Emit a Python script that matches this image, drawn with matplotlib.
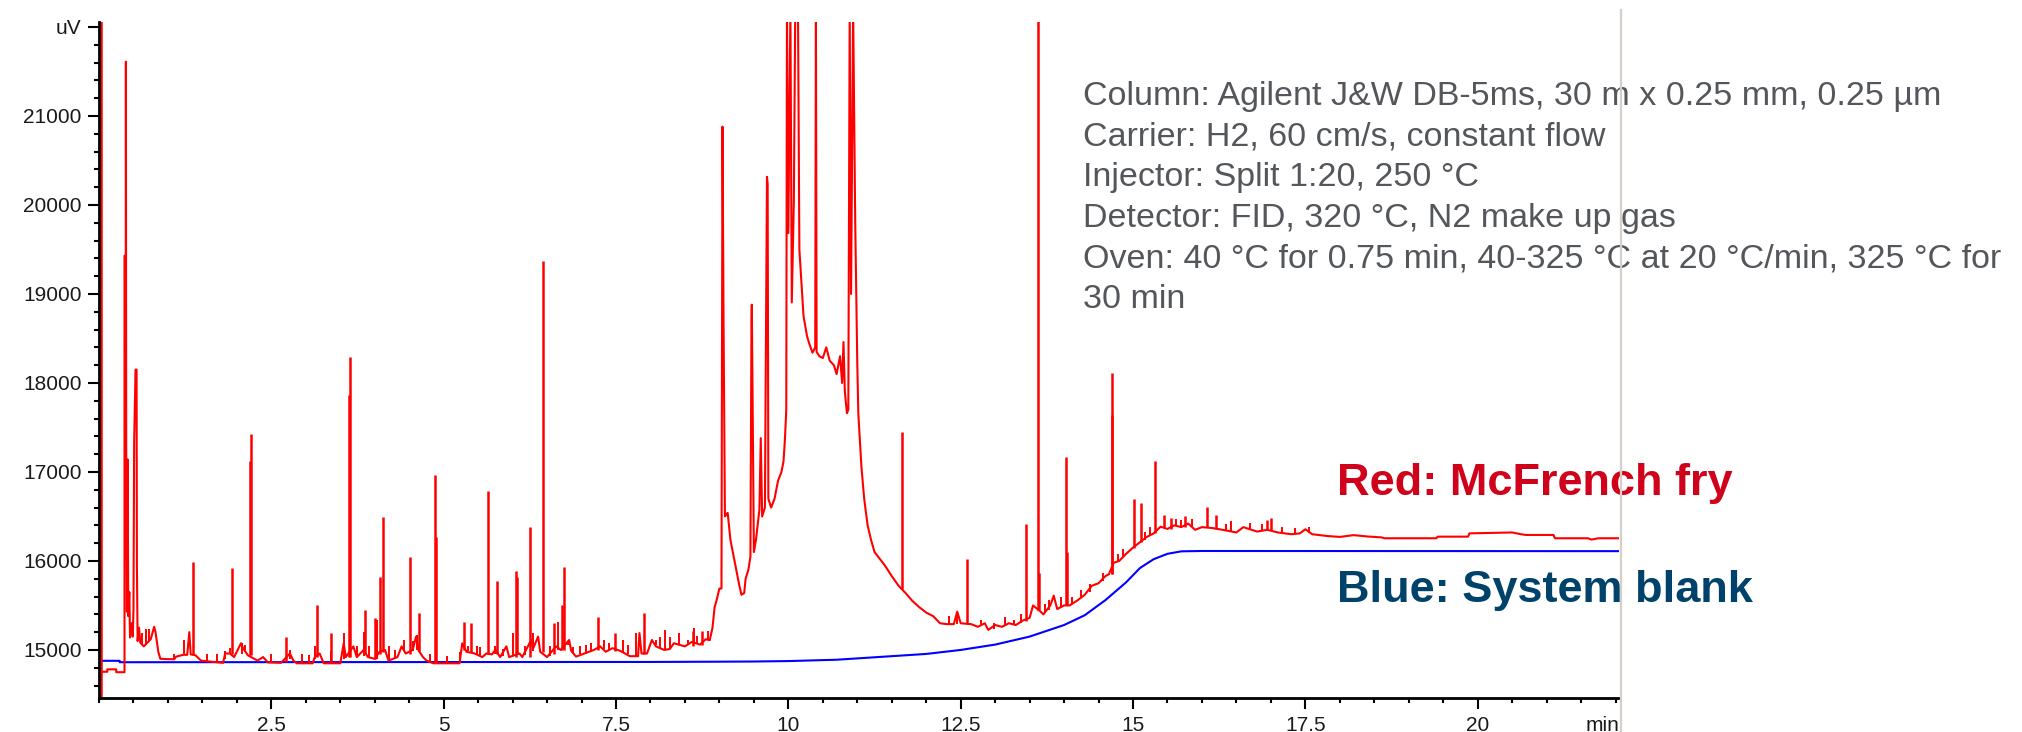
import matplotlib
matplotlib.use("Agg")
import matplotlib.pyplot as plt
from matplotlib.ticker import MultipleLocator
from matplotlib.lines import Line2D

plt.rcParams["font.family"] = ["Liberation Sans", "DejaVu Sans"]

# red trace (McFrench fry): retention time [min], signal [uV]
red_t = [0.00, 0.12, 0.12, 0.25, 0.25, 0.37, 0.37, 0.38, 0.385, 0.39, 0.395, 0.40, 0.405, 0.415,
         0.425, 0.44, 0.45, 0.47, 0.49, 0.50, 0.51, 0.53, 0.545, 0.55, 0.56, 0.58,
         0.60, 0.65, 0.70, 0.75, 0.80, 0.82, 0.86, 0.89, 1.09, 1.12, 1.22, 1.28,
         1.31, 1.33, 1.40, 1.48, 1.80, 1.83, 1.90, 1.96, 2.06, 2.09, 2.16, 2.30,
         2.38, 2.45, 2.64, 2.77, 2.82, 2.87, 3.10, 3.13, 3.20, 3.26, 3.50, 3.55,
         3.58, 3.69, 3.74, 3.84, 3.90, 4.00, 4.07, 4.15, 4.20, 4.33, 4.39, 4.45,
         4.55, 4.60, 4.64, 4.70, 4.75, 4.85, 4.94, 5.23, 5.27, 5.33, 5.45, 5.56,
         5.62, 5.70, 5.75, 5.82, 5.91, 5.95, 6.10, 6.14, 6.27, 6.30, 6.37, 6.40,
         6.50, 6.63, 6.70, 6.78, 6.82, 6.85, 6.92, 7.18, 7.27, 7.35, 7.45, 7.56,
         7.70, 7.82, 7.84, 7.87, 7.95, 8.02, 8.08, 8.20, 8.28, 8.34, 8.50, 8.60,
         8.72, 8.80, 8.86, 8.90, 8.93, 8.96, 9.00, 9.03, 9.045, 9.06, 9.08, 9.12,
         9.16, 9.22, 9.29, 9.32, 9.36, 9.38, 9.42, 9.45, 9.465, 9.47, 9.50, 9.53,
         9.58, 9.60, 9.62, 9.66, 9.69, 9.70, 9.71, 9.75, 9.80, 9.85, 9.90, 9.93,
         9.95, 9.97, 9.98, 10.00, 10.03, 10.05, 10.08, 10.10, 10.14, 10.16, 10.19, 10.22,
         10.27, 10.30, 10.35, 10.39, 10.40, 10.41, 10.45, 10.50, 10.55, 10.60, 10.66, 10.70,
         10.75, 10.78, 10.80, 10.82, 10.85, 10.87, 10.89, 10.91, 10.94, 10.97, 11.00, 11.015,
         11.06, 11.10, 11.15, 11.20, 11.25, 11.30, 11.40, 11.50, 11.60, 11.70, 11.80, 11.90,
         12.00, 12.10, 12.20, 12.30, 12.40, 12.45, 12.50, 12.65, 12.75, 12.85, 12.90, 13.00,
         13.10, 13.20, 13.30, 13.40, 13.50, 13.55, 13.66, 13.70, 13.80, 13.85, 13.90, 14.00,
         14.08, 14.20, 14.30, 14.40, 14.50, 14.60, 14.65, 14.72, 14.80, 14.90, 15.00, 15.10,
         15.20, 15.30, 15.40, 15.50, 15.60, 15.70, 15.80, 15.90, 16.00, 16.15, 16.30, 16.50,
         16.60, 16.80, 16.95, 17.10, 17.30, 17.42, 17.50, 17.60, 17.82, 18.00, 18.20, 18.40,
         18.60, 18.65, 19.40, 19.42, 19.86, 19.88, 20.50, 20.63, 20.70, 21.10, 21.12, 21.60,
         21.65, 21.75, 22.05]
red_v = [14755, 14755, 14782, 14782, 14750, 14750, 19430, 19430, 16100, 21610, 17190, 16110, 15430, 17140,
         15380, 15650, 15140, 15300, 15150, 15450, 17340, 18150, 18150, 15940, 15100, 15250,
         15080, 15040, 15080, 15120, 15260, 15200, 14980, 14900, 14895, 14925, 14945, 14945,
         15200, 14950, 14940, 14880, 14855, 14960, 14960, 14920, 15075, 15020, 14940, 14880,
         14920, 14860, 14855, 14960, 14880, 14850, 14850, 14920, 14960, 14850, 14850, 15075,
         14920, 15040, 14920, 15000, 14920, 14900, 14980, 15000, 14880, 14920, 15040, 14960,
         15000, 15150, 14990, 14920, 14880, 14850, 14850, 14850, 15075, 14980, 14960, 14920,
         14960, 14950, 15000, 14920, 15040, 14920, 14960, 14920, 15112, 15020, 15150, 14980,
         14920, 15040, 15000, 15075, 15112, 14990, 14925, 15000, 15040, 14980, 15020, 14990,
         14930, 14930, 15190, 14960, 14960, 15112, 15040, 15000, 15010, 15075, 15040, 15090,
         15060, 15120, 15110, 15250, 15480, 15560, 15690, 15690, 20880, 18700, 16500, 16540,
         16236, 16000, 15720, 15620, 15640, 15800, 15900, 16050, 18670, 18880, 16100, 16236,
         16573, 17380, 16500, 16600, 20316, 20237, 16700, 16600, 16700, 16900, 17000, 17120,
         17360, 17700, 22200, 19685, 22200, 18905, 20057, 22200, 22200, 19500, 19128, 18754,
         18530, 18450, 18340, 18400, 22200, 18350, 18300, 18280, 18400, 18250, 18200, 18100,
         18300, 18000, 18460, 17900, 17660, 17700, 22200, 19000, 22200, 19813, 18224, 17660,
         17060, 16700, 16400, 16236, 16100, 16050, 15950, 15830, 15720, 15640, 15550, 15480,
         15420, 15380, 15300, 15290, 15290, 15430, 15300, 15290, 15260, 15300, 15225, 15280,
         15260, 15300, 15280, 15330, 15360, 15500, 15430, 15400, 15500, 15610, 15460, 15500,
         15500, 15560, 15620, 15720, 15750, 15830, 15850, 15980, 16000, 16080, 16150, 16210,
         16270, 16310, 16385, 16360, 16400, 16380, 16420, 16350, 16380, 16370, 16350, 16320,
         16380, 16330, 16350, 16320, 16300, 16310, 16356, 16300, 16280, 16270, 16290, 16275,
         16265, 16255, 16255, 16273, 16273, 16310, 16320, 16300, 16292, 16292, 16255, 16255,
         16240, 16255, 16255]

# narrow red peaks: time, foot and apex
peak_t = [0.025, 1.36, 1.93, 2.19, 2.20, 2.71, 3.16, 3.37, 3.63, 3.645, 3.86, 4.00,
          4.07, 4.12, 4.51, 4.64, 4.88, 4.895, 5.30, 5.39, 5.65, 5.78, 6.05, 6.07,
          6.25, 6.44, 6.60, 6.72, 6.74, 7.24, 7.49, 7.91, 8.62, 8.75, 11.65, 12.59,
          13.45, 13.62, 13.64, 14.03, 14.045, 14.69, 14.70, 15.02, 15.11, 15.32, 15.45, 15.55,
          15.75, 16.08, 16.20, 16.95, 17.00]
peak_base = [14460, 14950, 14960, 14940, 14940, 14860, 14920, 14850, 14920, 14920, 14950, 14900,
             14950, 14980, 14960, 14990, 14850, 14850, 15000, 14980, 14960, 14960, 14920, 14960,
             14920, 14980, 14950, 15000, 15000, 15000, 14990, 14960, 15040, 15060, 15680, 15290,
             15330, 15450, 15450, 15500, 15500, 15850, 15850, 16150, 16210, 16310, 16380, 16360,
             16380, 16380, 16360, 16350, 16350]
peak_top = [22200, 15989, 15921, 17123, 17430, 15140, 15510, 15187, 17870, 18290, 15450, 15356,
            15820, 16495, 16040, 15420, 16962, 16270, 15310, 15300, 16790, 15774, 15887, 15820,
            16378, 19376, 15307, 15510, 15936, 15375, 15187, 15420, 15210, 15210, 17450, 16024,
            16420, 22200, 15860, 17170, 16100, 18110, 17640, 16700, 16647, 17120, 16520, 16480,
            16500, 16610, 16520, 16460, 16480]

# small noise spikes on the red baseline
noise_t = [0.62, 0.68, 0.73, 1.09, 1.24, 1.57, 1.71, 1.83, 1.90, 2.08, 2.12, 2.50,
           2.77, 2.95, 3.05, 3.13, 3.36, 3.55, 3.74, 3.84, 3.92, 4.04, 4.20, 4.30,
           4.42, 4.56, 4.62, 4.80, 5.05, 5.23, 5.35, 5.48, 5.52, 5.75, 5.86, 6.01,
           6.18, 6.30, 6.54, 6.66, 6.80, 6.88, 6.98, 7.06, 7.14, 7.32, 7.40, 7.60,
           7.68, 7.79, 8.08, 8.14, 8.21, 8.28, 8.41, 8.54, 8.63, 8.68, 8.84, 12.33,
           12.45, 12.80, 12.98, 13.15, 13.28, 13.38, 13.72, 13.78, 13.95, 14.12, 14.25, 14.38,
           14.56, 14.78, 14.86, 15.18, 15.25, 15.62, 15.70, 15.86, 16.35, 16.42, 16.70, 16.87,
           17.16, 17.35, 17.55]
noise_base = [15060, 15060, 15100, 14895, 14945, 14870, 14860, 14900, 14960, 14960, 14980, 14860,
              14900, 14850, 14850, 14900, 14850, 14900, 14920, 14930, 14920, 14900, 14880, 14900,
              14990, 14990, 15000, 14870, 14850, 14850, 14990, 14960, 14940, 14960, 14930, 14940,
              14940, 14990, 14930, 15000, 15050, 14960, 14960, 14960, 14980, 15010, 15000, 14980,
              14960, 14930, 15050, 15020, 15005, 15010, 15060, 15050, 15070, 15080, 15120, 15290,
              15290, 15270, 15240, 15280, 15280, 15300, 15410, 15450, 15480, 15520, 15580, 15650,
              15780, 15990, 16040, 16240, 16280, 16390, 16380, 16380, 16340, 16340, 16360, 16340,
              16310, 16300, 16310]
noise_top = [15190, 15240, 15230, 14955, 15112, 14960, 14950, 14990, 15018, 15075, 15060, 14960,
             15000, 14950, 14940, 15040, 14990, 15187, 15040, 15206, 15040, 15337, 15040, 15000,
             15112, 15100, 15168, 14950, 14930, 14980, 15040, 15040, 15030, 15040, 15010, 15187,
             15040, 15187, 15040, 15318, 15090, 15030, 15040, 15050, 15075, 15112, 15080, 15112,
             15060, 15187, 15112, 15150, 15225, 15150, 15187, 15112, 15243, 15160, 15210, 15380,
             15430, 15340, 15300, 15370, 15340, 15400, 15520, 15560, 15590, 15600, 15670, 15740,
             15860, 16080, 16130, 16330, 16380, 16470, 16460, 16470, 16420, 16450, 16430, 16420,
             16380, 16370, 16380]

# blue trace (system blank)
blue_t = [0.00, 0.30, 0.30, 8.00, 9.00, 9.50, 10.00, 10.70, 11.00, 11.50, 12.00, 12.50,
          13.00, 13.50, 14.00, 14.30, 14.60, 14.90, 15.10, 15.30, 15.50, 15.70, 16.00, 22.05]
blue_v = [14878, 14878, 14862, 14865, 14868, 14870, 14875, 14890, 14905, 14930, 14955, 15000,
          15060, 15150, 15280, 15390, 15560, 15760, 15920, 16020, 16080, 16108, 16112, 16110]

y_ticks = [15000, 16000, 17000, 18000, 19000, 20000, 21000, 22000]
y_labels = ["15000", "16000", "17000", "18000", "19000", "20000", "21000", "uV"]
x_ticks = [2.5, 5, 7.5, 10, 12.5, 15, 17.5, 20]
x_labels = ["2.5", "5", "7.5", "10", "12.5", "15", "17.5", "20"]

conditions = [
    "Column: Agilent J&W DB-5ms, 30 m x 0.25 mm, 0.25 \u00b5m",
    "Carrier: H2, 60 cm/s, constant flow",
    "Injector: Split 1:20, 250 \u00b0C",
    "Detector: FID, 320 \u00b0C, N2 make up gas",
    "Oven: 40 \u00b0C for 0.75 min, 40-325 \u00b0C at 20 \u00b0C/min, 325 \u00b0C for",
    "30 min",
]

W, H = 2022, 732
fig = plt.figure(figsize=(W / 100, H / 100), dpi=100)
ax = fig.add_axes([99 / W, 34 / H, 1520 / W, 676 / H])

ax.plot(blue_t, blue_v, color="#0000FF", lw=1.5, zorder=2)
ax.plot(red_t, red_v, color="#FF0000", lw=1.5, zorder=3)
ax.vlines(peak_t, peak_base, peak_top, color="#FF0000", lw=1.8, zorder=3)
ax.vlines(noise_t, noise_base, noise_top, color="#FF0000", lw=1.4, zorder=3)

ax.set_xlim(0, 22.05)
ax.set_ylim(14460, 22056)

for side in ["top", "right"]:
    ax.spines[side].set_visible(False)
for side in ["left", "bottom"]:
    ax.spines[side].set_linewidth(2.0)
    ax.spines[side].set_zorder(4)

ax.set_xticks(x_ticks)
ax.set_xticklabels(x_labels)
ax.set_yticks(y_ticks)
ax.set_yticklabels(y_labels)
ax.xaxis.set_minor_locator(MultipleLocator(0.5))
ax.yaxis.set_minor_locator(MultipleLocator(200))
ax.tick_params(which="major", length=7.7, width=1.5, labelsize=15, color="black", labelcolor="#1a1a1a")
ax.tick_params(which="minor", length=3.6, width=1.5, color="black")
ax.tick_params(axis="x", which="major", pad=5)
ax.tick_params(axis="y", which="major", pad=4.8)

ax.annotate("min", xy=(1, 0), xycoords="axes fraction", xytext=(0, -13.2),
            textcoords="offset points", ha="right", va="top", fontsize=15, color="#1a1a1a")

# run conditions text
for i, line in enumerate(conditions):
    fig.text(1083 / W, 1 - (105 + 40.7 * i) / H, line, fontsize=24.5,
             color="#53565A", va="baseline", ha="left")

fig.text(1337 / W, 1 - 495 / H, "Red: McFrench fry", fontsize=32.5, fontweight="bold",
         color="#D0021B", va="baseline", ha="left")
fig.text(1337 / W, 1 - 602 / H, "Blue: System blank", fontsize=32.5, fontweight="bold",
         color="#00426A", va="baseline", ha="left")

# window border of the chromatogram viewer
fig.add_artist(Line2D([1620.5 / W, 1620.5 / W], [0, 1 - 10 / H], transform=fig.transFigure,
                      color="#D4D0C8", lw=1.6, zorder=10))

fig.savefig("out.png", dpi=100)
